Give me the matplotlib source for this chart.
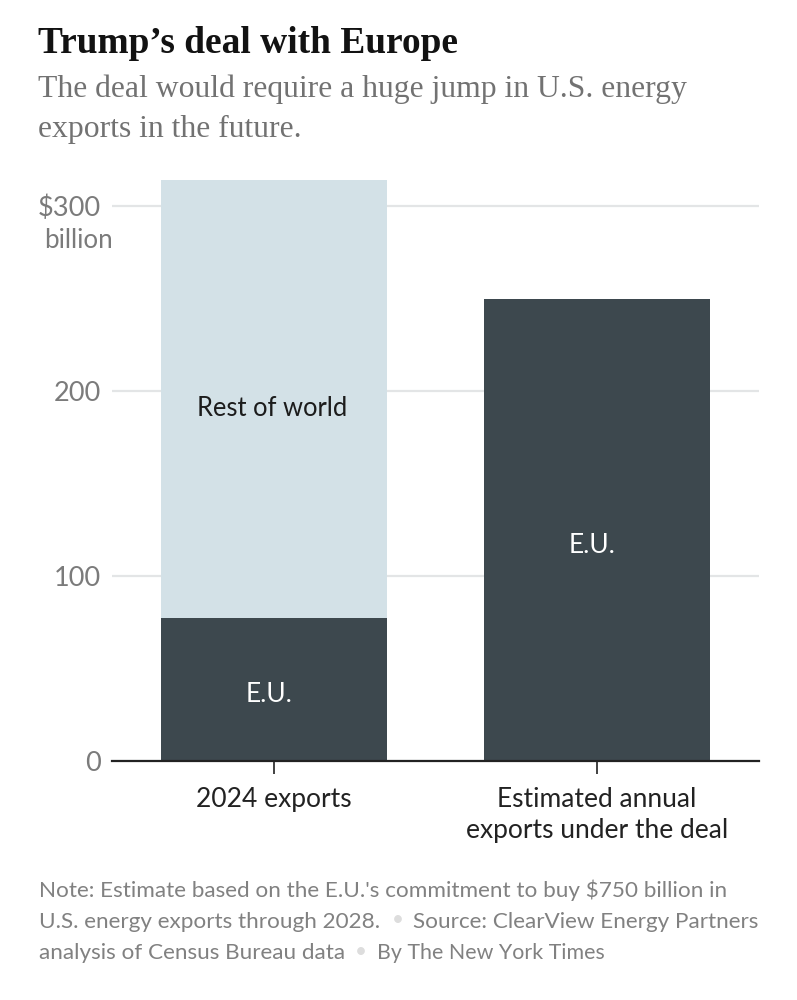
# 美国能源出口图表
import matplotlib
matplotlib.use('Agg')
import matplotlib.pyplot as plt
import numpy as np

categories = ['2024 exports', 'Estimated annual\nexports under the deal']
eu_values = [77.5, 250]
rest_values = [236.5, 0]
y_ticks = [0, 100, 200, 300]
y_labels = ['0', '100', '200', '$300']

W, H = 797, 1000
SANS = 'Lato'
SERIF = 'Liberation Serif'
DARK = '#3d484e'
LIGHT = '#d3e1e7'
GREY = '#7b7b7b'

def px_text(x, y, s, **kw):
    return fig.text(x / W, 1 - y / H, s, **kw)

fig = plt.figure(figsize=(W / 100, H / 100), dpi=100, facecolor='white')
ax = fig.add_axes([112 / W, 1 - 761 / H, (759 - 112) / W, 591 / H])

x = np.arange(len(categories))
ax.bar(x, eu_values, width=0.7, color=DARK, zorder=3)
ax.bar(x, rest_values, width=0.7, bottom=eu_values, color=LIGHT, zorder=3)

ax.set_xlim(-0.5015, 1.5015)
ax.set_ylim(0, 591 / 1.85)
ax.set_yticks(y_ticks)
ax.set_yticklabels(y_labels, fontsize=19.5, color=GREY, family=SANS, ha='right')
ax.set_xticks(x)
ax.set_xticklabels(categories, fontsize=19, color='#222222', family=SANS, linespacing=1.3)
ax.tick_params(axis='y', length=0, pad=8)
ax.tick_params(axis='x', length=9, width=1.3, color='#333333', pad=10)
ax.grid(axis='y', color='#e3e5e6', lw=1.6, zorder=0)
for s in ['top', 'left', 'right']:
    ax.spines[s].set_visible(False)
ax.spines['bottom'].set_color('#222222')
ax.spines['bottom'].set_linewidth(1.6)
ax.spines['bottom'].set_zorder(5)
ax.patch.set_alpha(0)

# 柱内标签
ax.text(0 - 0.005, 190.5, 'Rest of world', ha='center', va='center', fontsize=18.4, color='#1c1c1c', family=SANS, zorder=6)
ax.text(0 - 0.015, 36, 'E.U.', ha='center', va='center', fontsize=19, color='white', family=SANS, zorder=6)
ax.text(1 - 0.015, 116.5, 'E.U.', ha='center', va='center', fontsize=19, color='white', family=SANS, zorder=6)

px_text(44, 240, 'billion', fontsize=18.6, color=GREY, family=SANS, va='center')

# 标题
px_text(38, 53, 'Trump\u2019s deal with Europe', fontsize=26.9, fontweight='bold', family=SERIF, color='#121212', va='baseline')
px_text(38, 97, 'The deal would require a huge jump in U.S. energy', fontsize=22.8, family=SERIF, color='#727272', va='baseline')
px_text(38, 137, 'exports in the future.', fontsize=22.8, family=SERIF, color='#727272', va='baseline')

# 脚注
note = dict(fontsize=16.2, family=SANS, color='#818181', va='baseline')
px_text(39, 897, "Note: Estimate based on the E.U.'s commitment to buy $750 billion in", **note)
px_text(39, 928, 'U.S. energy exports through 2028.', **note)
px_text(398, 920, '\u2022', fontsize=15, family=SANS, color='#dddddd', va='center', ha='center')
px_text(413, 928, 'Source: ClearView Energy Partners', **note)
px_text(39, 959, 'analysis of Census Bureau data', **note)
px_text(361, 952, '\u2022', fontsize=15, family=SANS, color='#dddddd', va='center', ha='center')
px_text(377, 959, 'By The New York Times', fontsize=15.4, family=SANS, color='#818181', va='baseline')

fig.savefig('out.png', dpi=100)
